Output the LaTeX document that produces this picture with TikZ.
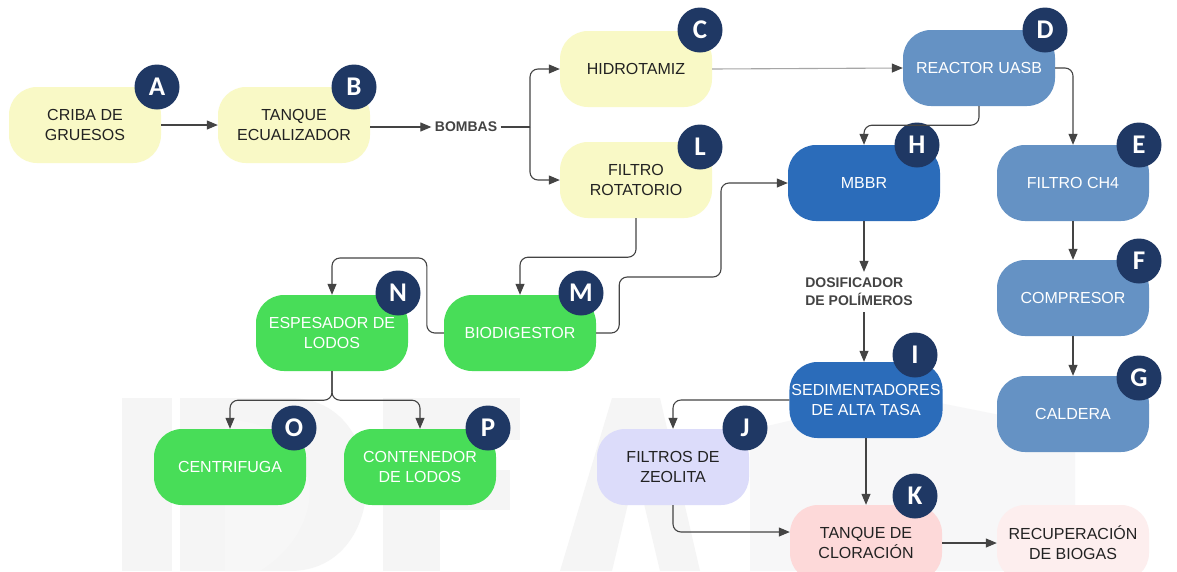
\documentclass[tikz,border=0pt]{standalone}
\usepackage{fontspec}
\setmainfont{Liberation Sans}
\newfontfamily\badgefont{Carlito}
\usetikzlibrary{arrows.meta,calc}
\definecolor{yel}{HTML}{F9F9C6}
\definecolor{lblue}{HTML}{6592C4}
\definecolor{dblue}{HTML}{2B6CBA}
\definecolor{grn}{HTML}{48DD58}
\definecolor{lav}{HTML}{DCDCFA}
\definecolor{pnk}{HTML}{FDD9D9}
\definecolor{lpnk}{HTML}{FDEEEE}
\definecolor{navy}{HTML}{1F3864}
\definecolor{txt}{HTML}{222222}
\definecolor{ln}{HTML}{444444}
\tikzset{
  box/.style={rectangle, rounded corners=28pt, minimum width=152pt, minimum height=76pt,
    align=center, inner sep=2pt, font=\fontsize{16}{20}\selectfont},
  ybox/.style={box, fill=yel, text=txt},
  lbbox/.style={box, fill=lblue, text=white},
  dbbox/.style={box, fill=dblue, text=white},
  gbox/.style={box, fill=grn, text=white},
  badge/.style={circle, fill=navy, text=white, minimum size=45pt, inner sep=0pt,
    font=\badgefont\bfseries\fontsize{27}{27}\selectfont},
  lbl/.style={font=\bfseries\fontsize{14}{18}\selectfont, text=txt!85, align=left},
  arr/.style={draw=ln, line width=1.1pt, rounded corners=8pt, -{Triangle[length=11pt,width=9pt,color=ln]}},
}
\begin{document}
\begin{tikzpicture}[x=1pt,y=-1pt]
\useasboundingbox (0,0) rectangle (1177,571);
\clip (0,0) rectangle (1177,571);
\fill[white] (0,0) rectangle (1177,571);
% faint watermark
\begin{scope}
\fill[black!4] (122,398) rectangle (172,571);
\fill[blue!6!black!4] (180,398) -- (290,398) .. controls (392,398) and (392,571) .. (290,571) -- (180,571) -- cycle;
\fill[white!97!black] (225,420) .. controls (320,420) and (340,520) .. (260,571) -- (225,571) -- cycle;
\fill[black!4] (383,398) rectangle (440,571);
\fill[black!4] (383,398) rectangle (520,440);
\fill[black!4] (383,470) rectangle (510,510);
\fill[black!4] (560,571) -- (612,398) -- (660,398) -- (700,571) -- (660,571) -- (636,470) -- (612,571) -- cycle;
\fill[blue!5!black!3] (750,430) -- (900,395) -- (1075,430) -- (1075,571) -- (750,571) -- cycle;
\end{scope}
% nodes
\node[ybox] (A) at (85,125) {CRIBA DE\\GRUESOS};
\node[ybox] (B) at (294,125) {TANQUE\\ECUALIZADOR};
\node[lbl] (bombas) at (466,127) {BOMBAS};
\node[ybox] (C) at (636,69) {HIDROTAMIZ};
\node[ybox] (L) at (636,180) {FILTRO\\ROTATORIO};
\node[lbbox] (D) at (979,68) {REACTOR UASB};
\node[dbbox] (H) at (864,183) {MBBR};
\node[lbbox] (E) at (1073,183) {FILTRO CH4};
\node[lbbox] (F) at (1073,298) {COMPRESOR};
\node[lbbox] (G) at (1073,414) {CALDERA};
\node[lbl, inner sep=6pt] (dos) at (859,292) {DOSIFICADOR\\DE POLÍMEROS};
\node[dbbox] (I) at (866,400) {SEDIMENTADORES\\DE ALTA TASA};
\node[box, fill=lav, text=txt] (J) at (673,467) {FILTROS DE\\ZEOLITA};
\node[box, fill=pnk, text=txt] (K) at (866,543) {TANQUE DE\\CLORACIÓN};
\node[box, fill=lpnk, text=txt] (R) at (1073,543) {RECUPERACIÓN\\DE BIOGAS};
\node[gbox] (N) at (332,333) {ESPESADOR DE\\LODOS};
\node[gbox] (M) at (520,333) {BIODIGESTOR};
\node[gbox] (O) at (230,467) {CENTRIFUGA};
\node[gbox] (P) at (420,467) {CONTENEDOR\\DE LODOS};
% badges
\node[badge] (bA) at (157,87) {A};
\node[badge] (bB) at (354,87) {B};
\node[badge] (bC) at (700,30) {C};
\node[badge] (bL) at (700,147) {L};
\node[badge] (bD) at (1045,30) {D};
\node[badge] (bH) at (917,145) {H};
\node[badge] (bE) at (1139,145) {E};
\node[badge] (bF) at (1139,261) {F};
\node[badge] (bG) at (1139,378) {G};
\node[badge] (bI) at (915,355) {I};
\node[badge] (bJ) at (745,428) {J};
\node[badge] (bK) at (915,496) {K};
\node[badge] (bN) at (398,293) {N};
\node[badge] (bM) at (581,293) {M};
\node[badge] (bO) at (294,428) {O};
\node[badge] (bP) at (488,428) {P};
% connectors
\coordinate (split) at (530,127);
\coordinate (mh) at (721,277);
\draw[arr] (A.east) -- (B.west);
\draw[arr] (B.east |- bombas) -- (bombas.west);
\draw[draw=ln, line width=1.1pt] (bombas.east) -- (split);
\draw[arr] (split) |- (C.west);
\draw[arr] (split) |- (L.west);
\draw[arr, draw=black!35] (C.east) -- (D.west);
\draw[arr] (D.south) -- ++(0,19) -| (H.north);
\draw[arr] (D.east) -| (E.north);
\draw[arr] (E.south) -- (F.north);
\draw[arr] (F.south) -- (G.north);
\draw[arr] (H.south) -- (H.south |- dos.north);
\draw[arr] (H.south |- dos.south) -- (H.south |- I.north);
\draw[arr] (I.west) -| (J.north);
\draw[arr] (I.south) -- (K.north);
\draw[arr] (J.south) |- ($(K.west)+(0,-11)$);
\draw[arr] (K.east) -- (R.west);
\draw[arr] (L.south) -- ++(0,39) -| (M.north);
\draw[arr] (M.east) -- ++(23,0) |- (mh) |- (H.west);
\draw[arr] (M.west) -- ++(-17,0) -- ++(0,-75) -| (N.north);
\draw[arr] (N.south) -- ++(0,29) -| (O.north);
\draw[arr] (N.south) -- ++(0,29) -| (P.north);
\end{tikzpicture}
\end{document}
